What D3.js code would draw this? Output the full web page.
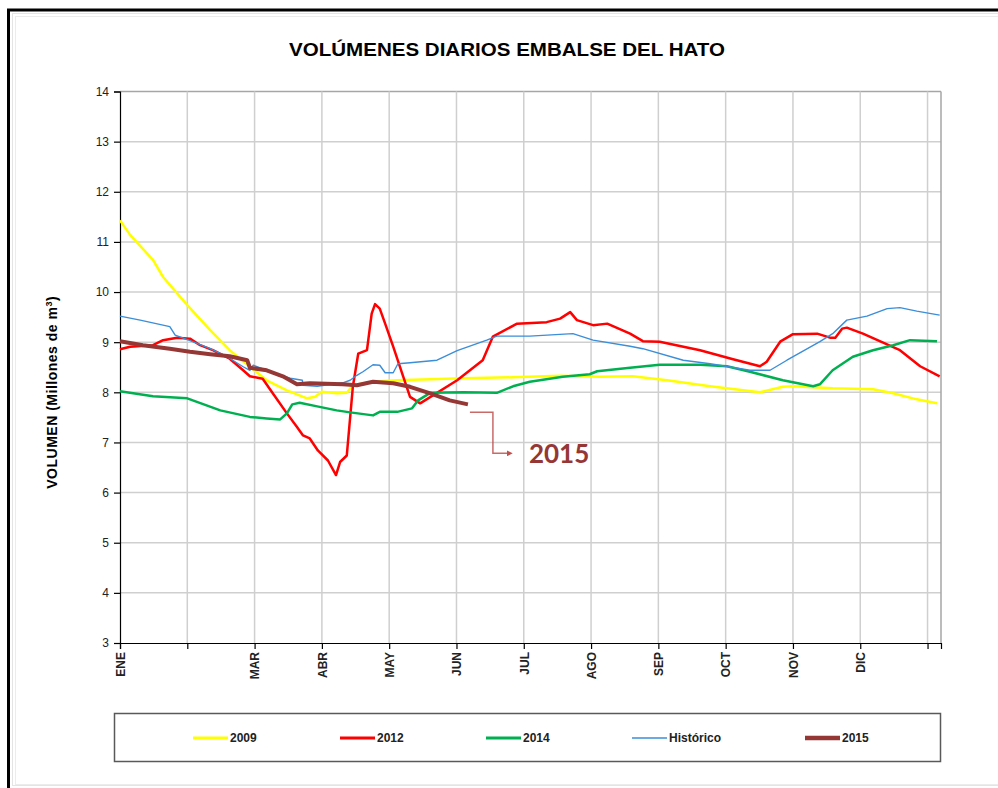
<!DOCTYPE html>
<html>
<head>
<meta charset="utf-8">
<script src="https://cdn.jsdelivr.net/npm/d3@7"></script>
<style>
  body { margin: 0; background: #fff; }
  svg { display: block; font-family: "Liberation Sans", Arial, sans-serif; }
</style>
</head>
<body>
<div id="my_dataviz"></div>
<script>
// month labels (x position = month index, FEB and next ENE have no label)
var monthLabels = ["ENE", "", "MAR", "ABR", "MAY", "JUN", "JUL", "AGO", "SEP", "OCT", "NOV", "DIC", ""];
var yTicks = [3, 4, 5, 6, 7, 8, 9, 10, 11, 12, 13, 14];

// each series: time in months from 1 Jan, and volume in millions of m3
var mes2009 = [0, 0.15, 0.49, 0.64, 1.0, 1.34, 1.63, 1.93, 2.18, 2.48, 2.78, 2.90, 3.0, 3.22, 3.37, 3.46, 3.76, 4.12, 4.61, 5.10, 5.84, 6.54, 7.13, 7.62, 8.13, 8.77, 9.26, 9.51, 9.85, 10.0, 10.59, 11.19, 11.49, 11.84, 12.14];
var vol2009 = [11.43, 11.14, 10.64, 10.30, 9.74, 9.24, 8.84, 8.51, 8.24, 8.04, 7.88, 7.91, 8.01, 7.98, 7.99, 8.14, 8.21, 8.24, 8.26, 8.28, 8.30, 8.33, 8.31, 8.32, 8.24, 8.12, 8.04, 8.00, 8.11, 8.12, 8.08, 8.06, 7.98, 7.86, 7.78];

var mes2012 = [0, 0.15, 0.49, 0.64, 0.85, 1.04, 1.19, 1.38, 1.63, 1.83, 1.93, 2.12, 2.27, 2.48, 2.63, 2.72, 2.82, 2.94, 3.09, 3.21, 3.27, 3.37, 3.46, 3.54, 3.67, 3.74, 3.79, 3.86, 3.94, 4.06, 4.21, 4.31, 4.46, 5.01, 5.39, 5.54, 5.90, 6.34, 6.54, 6.69, 6.79, 7.03, 7.24, 7.58, 7.77, 8.02, 8.62, 9.11, 9.51, 9.61, 9.81, 10.0, 10.36, 10.55, 10.63, 10.73, 10.80, 11.04, 11.34, 11.59, 11.89, 12.18];
var vol2012 = [8.86, 8.91, 8.94, 9.04, 9.09, 9.07, 8.94, 8.84, 8.67, 8.44, 8.32, 8.27, 7.98, 7.58, 7.31, 7.14, 7.08, 6.84, 6.64, 6.35, 6.61, 6.74, 8.11, 8.77, 8.84, 9.57, 9.76, 9.67, 9.37, 8.91, 8.31, 7.91, 7.78, 8.24, 8.64, 9.11, 9.37, 9.40, 9.47, 9.60, 9.44, 9.34, 9.37, 9.17, 9.02, 9.01, 8.84, 8.66, 8.52, 8.61, 9.01, 9.16, 9.17, 9.09, 9.09, 9.27, 9.29, 9.17, 8.99, 8.84, 8.52, 8.32];

var mes2014 = [0, 0.49, 1.0, 1.49, 1.93, 2.18, 2.38, 2.48, 2.56, 2.67, 2.93, 3.22, 3.42, 3.76, 3.86, 4.12, 4.34, 4.43, 4.61, 5.10, 5.60, 5.84, 6.09, 6.58, 6.98, 7.09, 7.58, 8.02, 8.62, 9.02, 9.36, 9.85, 10.30, 10.40, 10.59, 10.89, 11.19, 11.49, 11.74, 12.14];
var vol2014 = [8.02, 7.92, 7.88, 7.64, 7.51, 7.48, 7.46, 7.58, 7.76, 7.79, 7.72, 7.64, 7.60, 7.54, 7.61, 7.61, 7.68, 7.84, 7.99, 8.00, 7.99, 8.12, 8.21, 8.31, 8.36, 8.42, 8.49, 8.55, 8.55, 8.52, 8.41, 8.24, 8.12, 8.16, 8.44, 8.71, 8.84, 8.94, 9.04, 9.02];

var mesHist = [0, 0.30, 0.74, 0.82, 1.04, 1.34, 1.59, 1.83, 1.93, 1.98, 2.23, 2.53, 2.71, 2.72, 2.93, 3.31, 3.42, 3.52, 3.61, 3.76, 3.86, 3.94, 4.06, 4.13, 4.31, 4.71, 5.01, 5.45, 5.60, 6.09, 6.73, 7.03, 7.58, 7.77, 8.37, 8.77, 9.36, 9.66, 9.91, 10.40, 10.59, 10.80, 11.10, 11.40, 11.59, 11.84, 12.18];
var volHist = [9.52, 9.44, 9.31, 9.14, 9.03, 8.87, 8.71, 8.51, 8.44, 8.54, 8.41, 8.28, 8.24, 8.14, 8.12, 8.19, 8.24, 8.34, 8.41, 8.55, 8.54, 8.39, 8.39, 8.57, 8.59, 8.64, 8.83, 9.04, 9.12, 9.12, 9.17, 9.04, 8.92, 8.87, 8.64, 8.57, 8.44, 8.44, 8.64, 9.01, 9.17, 9.44, 9.52, 9.67, 9.69, 9.62, 9.54];

var mes2015 = [0, 0.34, 0.74, 1.04, 1.34, 1.63, 1.89, 1.93, 2.18, 2.42, 2.63, 2.82, 3.31, 3.52, 3.76, 4.06, 4.31, 4.61, 4.90, 5.17];
var vol2015 = [9.02, 8.94, 8.87, 8.81, 8.76, 8.72, 8.64, 8.49, 8.44, 8.32, 8.16, 8.18, 8.16, 8.14, 8.21, 8.18, 8.11, 7.98, 7.84, 7.76];

var seriesNames = ["2009", "2012", "2014", "Histórico", "2015"];
var seriesColors = ["#ffff00", "#ff0000", "#00b050", "#3b8ed8", "#953735"];
var seriesWidths = [2.5, 2.5, 2.5, 1.4, 4];

function zip(ms, vs) {
  return ms.map(function(m, i) { return {mes: m, vol: vs[i]}; });
}
var series = [
  zip(mes2009, vol2009),
  zip(mes2012, vol2012),
  zip(mes2014, vol2014),
  zip(mesHist, volHist),
  zip(mes2015, vol2015)
];

// set the dimensions and margins of the graph
var margin = {top: 91.5, right: 57, bottom: 145, left: 120},
    width = 998 - margin.left - margin.right,
    height = 788 - margin.top - margin.bottom;

var root = d3.select("#my_dataviz")
  .append("svg")
  .attr("width", 998)
  .attr("height", 788);

// outer frame of the picture
root.append("path")
  .attr("d", "M8.5,788 V10 H998")
  .attr("fill", "none")
  .attr("stroke", "#000")
  .attr("stroke-width", 3);
root.append("rect")
  .attr("x", 12.5).attr("y", 13.5)
  .attr("width", 990).attr("height", 772)
  .attr("fill", "none").attr("stroke", "#e4e4e4").attr("stroke-width", 1);
root.append("rect")
  .attr("x", 15.5).attr("y", 16.5)
  .attr("width", 990).attr("height", 768)
  .attr("fill", "none").attr("stroke", "#ececec").attr("stroke-width", 1);

// title
root.append("text")
  .attr("x", 507)
  .attr("y", 56)
  .attr("text-anchor", "middle")
  .attr("textLength", 436)
  .attr("lengthAdjust", "spacingAndGlyphs")
  .style("font-size", "18.5px")
  .style("font-weight", "bold")
  .text("VOLÚMENES DIARIOS EMBALSE DEL HATO");

var svg = root.append("g")
  .attr("transform", "translate(" + margin.left + "," + margin.top + ")");

var x = d3.scaleLinear()
  .domain([0, 12.2])
  .range([0, width]);

var y = d3.scaleLinear()
  .domain([3, 14])
  .range([height, 0]);

// grid
svg.append("g")
  .selectAll("line.hg")
  .data(yTicks.slice(1))
  .enter()
  .append("line")
  .attr("x1", 0).attr("x2", width)
  .attr("y1", function(d) { return y(d); })
  .attr("y2", function(d) { return y(d); })
  .attr("stroke", function(d) { return d === 14 ? "#a6a6a6" : "#cfcfcf"; })
  .attr("stroke-width", 1.5);

svg.append("g")
  .selectAll("line.vg")
  .data(d3.range(1, monthLabels.length))
  .enter()
  .append("line")
  .attr("y1", 0).attr("y2", height)
  .attr("x1", function(d) { return x(d); })
  .attr("x2", function(d) { return x(d); })
  .attr("stroke", "#cfcfcf")
  .attr("stroke-width", 1.5);

svg.append("line")
  .attr("x1", width).attr("x2", width)
  .attr("y1", 0).attr("y2", height)
  .attr("stroke", "#a6a6a6")
  .attr("stroke-width", 1.5);

// Y axis
var yAxis = svg.append("g")
  .call(d3.axisLeft(y).tickValues(yTicks).tickSize(6).tickPadding(5));
yAxis.selectAll("text").style("font-size", "12px").attr("fill", "#222");
yAxis.selectAll("line, path").attr("stroke", "#000").attr("stroke-width", 1.2);

svg.append("text")
  .attr("transform", "rotate(-90)")
  .attr("x", -(y(8.0)))
  .attr("y", 52 - margin.left)
  .attr("dy", "0.35em")
  .style("text-anchor", "middle")
  .style("font-size", "14px")
  .style("letter-spacing", "0.5px")
  .style("font-weight", "bold")
  .html("VOLUMEN (Millones de m<tspan dy='-5' font-size='9px'>3</tspan><tspan dy='5'>)</tspan>");

// X axis
var xAxis = svg.append("g")
  .attr("transform", "translate(0," + height + ")")
  .call(d3.axisBottom(x)
    .tickValues(d3.range(0, monthLabels.length))
    .tickFormat(function(d) { return monthLabels[d]; })
    .tickSize(6));
xAxis.selectAll("line, path").attr("stroke", "#000").attr("stroke-width", 1.2);
xAxis.selectAll("text")
  .style("font-size", "12px")
  .style("font-weight", "bold")
  .attr("fill", "#222")
  .attr("transform", "rotate(-90)")
  .attr("text-anchor", "end")
  .attr("x", -9)
  .attr("y", 0)
  .attr("dy", "0.36em");

// lines
var line = d3.line()
  .x(function(d) { return x(d.mes); })
  .y(function(d) { return y(d.vol); });

svg.append("g")
  .selectAll("path.serie")
  .data(series)
  .enter()
  .append("path")
  .attr("d", line)
  .attr("fill", "none")
  .attr("stroke", function(d, i) { return seriesColors[i]; })
  .attr("stroke-width", function(d, i) { return seriesWidths[i]; })
  .attr("stroke-linejoin", "round");

// callout for the 2015 series
var last = series[4][series[4].length - 1];
var ax = x(last.mes) + 2, ay = y(last.vol) + 8;
svg.append("defs").append("marker")
  .attr("id", "arrow")
  .attr("viewBox", "0 0 10 10")
  .attr("refX", 2).attr("refY", 5)
  .attr("markerWidth", 4).attr("markerHeight", 4)
  .attr("orient", "auto")
  .append("path")
  .attr("d", "M0,0 L10,5 L0,10 z")
  .attr("fill", "#c0504d");
svg.append("path")
  .attr("d", "M" + ax + "," + ay + " H" + (ax + 23) + " V" + (ay + 41) + " H" + (ax + 38))
  .attr("fill", "none")
  .attr("stroke", "#c0504d")
  .attr("stroke-opacity", 0.85)
  .attr("stroke-width", 1.5)
  .attr("marker-end", "url(#arrow)");
svg.append("text")
  .attr("x", ax + 59)
  .attr("y", ay + 51)
  .style("font-family", "Lato, 'Open Sans', sans-serif")
  .style("font-size", "26px")
  .style("font-weight", "bold")
  .attr("fill", "#953735")
  .text("2015");

// legend
var legend = root.append("g");
legend.append("rect")
  .attr("x", 114.5).attr("y", 713.5)
  .attr("width", 826).attr("height", 48)
  .attr("fill", "#fff")
  .attr("stroke", "#595959")
  .attr("stroke-width", 1.5);

var legendX = [193, 340, 486, 632, 805];
var items = legend.selectAll("g.item")
  .data(seriesNames)
  .enter()
  .append("g")
  .attr("transform", function(d, i) { return "translate(" + legendX[i] + ",738)"; });
items.append("line")
  .attr("x1", 0).attr("x2", 35)
  .attr("stroke", function(d, i) { return seriesColors[i]; })
  .attr("stroke-width", function(d, i) { return i === 3 ? 1.5 : (i === 4 ? 4.5 : 3); });
items.append("text")
  .attr("x", 37)
  .attr("dy", "0.35em")
  .style("font-size", "12px")
  .style("font-weight", "bold")
  .attr("fill", "#222")
  .text(function(d) { return d; });
</script>
</body>
</html>
